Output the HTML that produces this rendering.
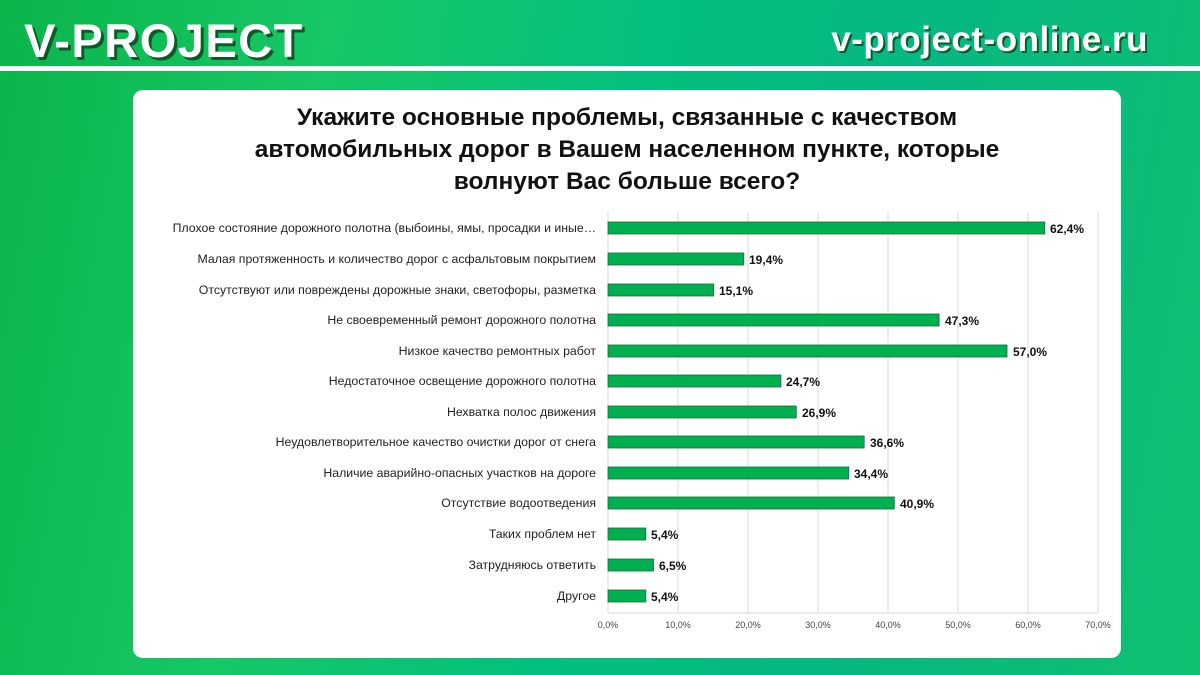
<!DOCTYPE html>
<html><head><meta charset="utf-8"><style>
body{margin:0;width:1200px;height:675px;overflow:hidden;font-family:"Liberation Sans",sans-serif;
background:linear-gradient(100deg,#0ab54a 0%,#17c765 25%,#02c07e 50%,#06b882 70%,#0fbf70 100%);position:relative}
.logo{position:absolute;left:24px;top:13px;font-size:47px;font-weight:bold;color:#fff;letter-spacing:1.5px;text-shadow:3px 3px 0 #0a5a2a}
.site{position:absolute;right:52px;top:20px;font-size:35px;font-weight:bold;color:#fff;letter-spacing:0.5px;text-shadow:2px 2px 0 #0a5a2a}
.line{position:absolute;left:0;top:66px;width:1200px;height:5px;background:#fff}
.panel{position:absolute;left:133px;top:90px;width:988px;height:568px;background:#fff;border-radius:10px}
.title{position:absolute;left:133px;top:102px;width:988px;text-align:center;font-size:24.5px;font-weight:bold;line-height:32px;color:#111}
</style></head><body>
<div class="logo">V-PROJECT</div>
<div class="site">v-project-online.ru</div>
<div class="line"></div>
<div class="panel"></div>
<div class="title">Укажите основные проблемы, связанные с качеством<br>автомобильных дорог в Вашем населенном пункте, которые<br>волнуют Вас больше всего?</div>
<svg width="1200" height="675" style="position:absolute;left:0;top:0" font-family="Liberation Sans, sans-serif">
<g stroke="#d9d9d9" stroke-width="1">
<line x1="678" y1="212" x2="678" y2="613"/><line x1="748" y1="212" x2="748" y2="613"/><line x1="818" y1="212" x2="818" y2="613"/><line x1="888" y1="212" x2="888" y2="613"/><line x1="958" y1="212" x2="958" y2="613"/><line x1="1028" y1="212" x2="1028" y2="613"/><line x1="1098" y1="212" x2="1098" y2="613"/>
<line x1="608" y1="613" x2="1098" y2="613"/><line x1="608" y1="212" x2="608" y2="613"/>
</g>
<g font-size="9" fill="#444" text-anchor="middle">
<text x="608" y="628">0,0%</text><text x="678" y="628">10,0%</text><text x="748" y="628">20,0%</text><text x="818" y="628">30,0%</text><text x="888" y="628">40,0%</text><text x="958" y="628">50,0%</text><text x="1028" y="628">60,0%</text><text x="1098" y="628">70,0%</text>
</g>
<g fill="#00b050" stroke="#1a6b36" stroke-width="0.8">
<rect x="608" y="222" width="436.8" height="12"/>
<rect x="608" y="253" width="135.8" height="12"/>
<rect x="608" y="284" width="105.7" height="12"/>
<rect x="608" y="314" width="331.1" height="12"/>
<rect x="608" y="345" width="399" height="12"/>
<rect x="608" y="375" width="172.9" height="12"/>
<rect x="608" y="406" width="188.3" height="12"/>
<rect x="608" y="436" width="256.2" height="12"/>
<rect x="608" y="467" width="240.8" height="12"/>
<rect x="608" y="497" width="286.3" height="12"/>
<rect x="608" y="528" width="37.8" height="12"/>
<rect x="608" y="559" width="45.5" height="12"/>
<rect x="608" y="590" width="37.8" height="12"/>
</g>
<g font-size="12" font-weight="bold" fill="#111">
<text x="1050" y="233">62,4%</text><text x="749" y="264">19,4%</text><text x="719" y="295">15,1%</text><text x="945" y="325">47,3%</text><text x="1013" y="356">57,0%</text><text x="786" y="386">24,7%</text><text x="802" y="417">26,9%</text><text x="870" y="447">36,6%</text><text x="854" y="478">34,4%</text><text x="900" y="508">40,9%</text><text x="651" y="539">5,4%</text><text x="659" y="570">6,5%</text><text x="651" y="601">5,4%</text>
</g>
<g font-size="12.3" fill="#222" text-anchor="end">
<text x="596" y="232">Плохое состояние дорожного полотна (выбоины, ямы, просадки и иные…</text>
<text x="596" y="263">Малая протяженность и количество дорог с асфальтовым покрытием</text>
<text x="596" y="294">Отсутствуют или повреждены дорожные знаки, светофоры, разметка</text>
<text x="596" y="324">Не своевременный ремонт дорожного полотна</text>
<text x="596" y="355">Низкое качество ремонтных работ</text>
<text x="596" y="385">Недостаточное освещение дорожного полотна</text>
<text x="596" y="416">Нехватка полос движения</text>
<text x="596" y="446">Неудовлетворительное качество очистки дорог от снега</text>
<text x="596" y="477">Наличие аварийно-опасных участков на дороге</text>
<text x="596" y="507">Отсутствие водоотведения</text>
<text x="596" y="538">Таких проблем нет</text>
<text x="596" y="569">Затрудняюсь ответить</text>
<text x="596" y="600">Другое</text>
</g>
</svg>
</body></html>
